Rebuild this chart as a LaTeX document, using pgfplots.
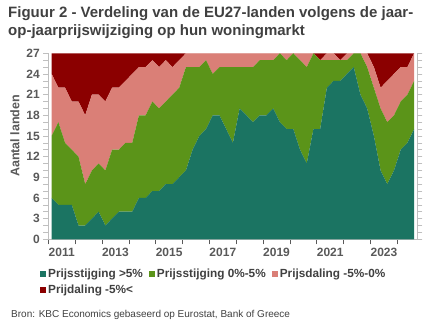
\documentclass[border=0pt]{standalone}
\usepackage{pgfplots}
\pgfplotsset{compat=1.18}
\usepackage{pgfplotstable}
\usepackage{fontspec}
\setmainfont{Liberation Sans}
\definecolor{cteal}{HTML}{1B7462}
\definecolor{cgreen}{HTML}{5B9419}
\definecolor{cpink}{HTML}{DA7F77}
\definecolor{cred}{HTML}{8B0000}
\definecolor{ctitle}{HTML}{404040}
\definecolor{ctick}{HTML}{595959}
\definecolor{caxis}{HTML}{BFBFBF}

\pgfplotstableread{
x a b c d
2011.125 6 9 9 3
2011.375 5 12 5 5
2011.625 5 9 8 5
2011.875 5 8 7 7
2012.125 2 10 8 7
2012.375 2 6 10 9
2012.625 3 7 11 6
2012.875 4 7 10 6
2013.125 2 8 10 7
2013.375 3 10 9 5
2013.625 4 9 9 5
2013.875 4 10 9 4
2014.125 4 10 10 3
2014.375 6 12 7 2
2014.625 6 12 7 2
2014.875 7 13 6 1
2015.125 7 12 6 2
2015.375 8 12 6 1
2015.625 8 13 4 2
2015.875 9 13 4 1
2016.125 10 15 2 0
2016.375 13 12 2 0
2016.625 15 10 2 0
2016.875 16 10 1 0
2017.125 18 6 3 0
2017.375 18 7 2 0
2017.625 16 9 2 0
2017.875 14 11 2 0
2018.125 19 6 2 0
2018.375 18 7 2 0
2018.625 17 8 2 0
2018.875 18 8 1 0
2019.125 18 8 1 0
2019.375 19 7 1 0
2019.625 17 10 0 0
2019.875 16 10 1 0
2020.125 16 11 0 0
2020.375 13 13 1 0
2020.625 11 14 2 0
2020.875 16 11 0 0
2021.125 16 10 0 1
2021.375 22 4 1 0
2021.625 23 3 1 0
2021.875 23 3 0 1
2022.125 24 2 1 0
2022.375 25 2 0 0
2022.625 21 6 0 0
2022.875 19 6 2 0
2023.125 15 7 3 2
2023.375 10 9 3 5
2023.625 8 9 6 4
2023.875 10 8 6 3
2024.125 13 7 5 2
2024.375 14 7 4 2
2024.625 16 7 4 0
}\data

\begin{document}
\begin{tikzpicture}[x=1pt,y=1pt]
\useasboundingbox (0,0) rectangle (432,334);
\node[anchor=base west, inner sep=0pt, text=ctitle, font=\fontsize{15}{17}\selectfont\bfseries] at (8,334-18) {Figuur 2 - Verdeling van de EU27-landen volgens de jaar-};
\node[anchor=base west, inner sep=0pt, text=ctitle, font=\fontsize{15}{17}\selectfont\bfseries] at (8,334-36) {op-jaarprijswijziging op hun woningmarkt};
\node[rotate=90, text=ctick, font=\fontsize{12.5}{14}\selectfont\bfseries] at (15,334-136) {Aantal landen};
\node[anchor=base west, inner sep=0pt, text=ctitle, font=\fontsize{10}{12}\selectfont] at (11,334-318) {Bron: KBC Economics gebaseerd op Eurostat, Bank of Greece};
\begin{axis}[
  at={(48.3pt,94.7pt)}, anchor=south west,
  width=369.2pt, height=186pt, scale only axis,
  xmin=2011, xmax=2024.75, ymin=0, ymax=27,
  stack plots=y,
  axis x line*=bottom,
  axis line style={caxis},
  xtick={2011.5,2013.5,...,2023.5},
  xticklabels={2011,2013,2015,2017,2019,2021,2023},
  minor xtick={2011,...,2024},
  major x tick style={draw=none},
  minor x tick style={draw=ctick, line width=0.6pt},
  ytick={0,3,...,27}, minor ytick={0,...,27},
  ytick pos=both,
  yticklabel pos=left,
  y tick style={draw=caxis, line width=0.6pt},
  tick align=outside,
  major tick length=5pt, minor tick length=5pt,
  /pgf/number format/assume math mode=true,
  ticklabel style={font=\fontsize{12}{14}\selectfont\bfseries, text=ctick},
  xticklabel style={yshift=0pt},
  every axis plot/.append style={draw=none},
  legend columns=3,
  legend cell align=left,
  legend style={at={(-0.0225,-0.15)}, anchor=north west, draw=none, fill=none, inner sep=0pt,
    font=\fontsize{11.8}{14}\selectfont\bfseries, text=ctitle,
    /tikz/every even column/.append style={column sep=4pt},
    row sep=2pt},
  legend image code/.code={\fill[#1] (0pt,-3pt) rectangle (6pt,3pt);},
]
\addplot[fill=cteal, draw=none] table[x=x,y=a] {\data} \closedcycle;
\addlegendentry{Prijsstijging >5\%}
\addplot[fill=cgreen, draw=none] table[x=x,y=b] {\data} \closedcycle;
\addlegendentry{Prijsstijging 0\%-5\%}
\addplot[fill=cpink, draw=none] table[x=x,y=c] {\data} \closedcycle;
\addlegendentry{Prijsdaling -5\%-0\%}
\addplot[fill=cred, draw=none] table[x=x,y=d] {\data} \closedcycle;
\addlegendentry{Prijdaling -5\%<}
\end{axis}
\end{tikzpicture}
\end{document}
